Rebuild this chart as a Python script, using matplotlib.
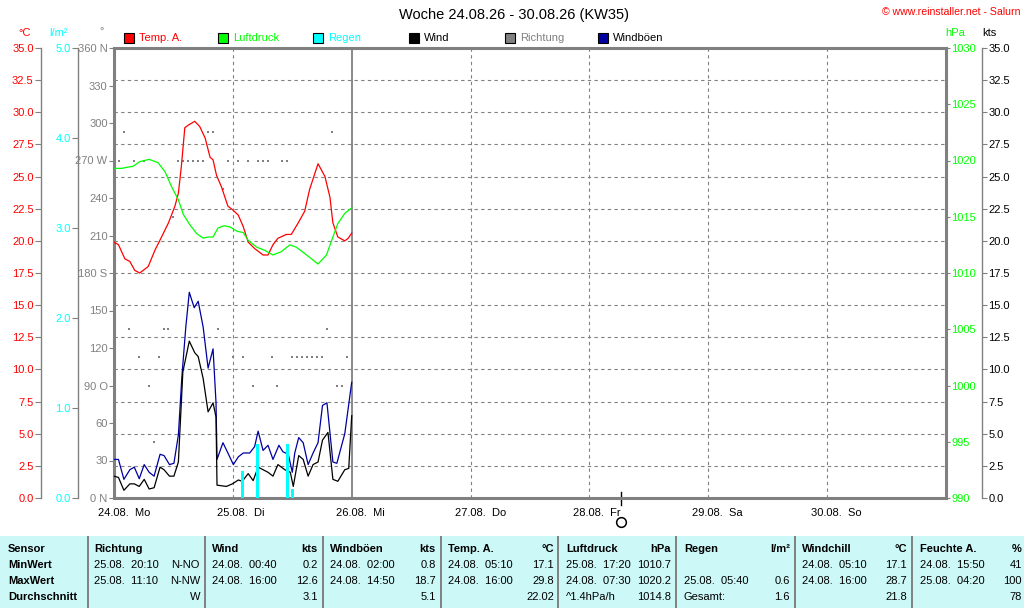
import numpy as np
import matplotlib
matplotlib.use("Agg")
import matplotlib.pyplot as plt
from matplotlib.patches import Rectangle
from matplotlib.lines import Line2D
from matplotlib import transforms

plt.rcParams['font.family'] = ['Liberation Sans', 'DejaVu Sans']
plt.rcParams['font.size'] = 8

# ---- data (hours since 24.08. 00:00) ----
temp_h = [0, 0.9, 2.2, 3.2, 4.2, 5.2, 6.9, 8.3, 9.6, 11.0, 12.3, 13.0, 13.6, 14.3, 15.0, 16.3,
          17.3, 18.4, 19.4, 20.0, 20.7, 21.7, 23.0, 24.0, 25.1, 26.1, 27.1, 28.4, 30.1, 31.1,
          32.1, 33.1, 34.8, 35.8, 37.2, 38.5, 39.5, 41.2, 42.6, 43.6, 44.2, 45.2, 46.6, 47.3, 48.0]
temp_v = [19.9, 19.7, 18.6, 18.4, 17.7, 17.5, 18.0, 19.3, 20.3, 21.4, 22.7, 23.7, 25.8, 28.8,
          29.0, 29.3, 28.9, 28.0, 26.5, 26.3, 25.1, 24.2, 22.7, 22.4, 22.0, 21.1, 19.9, 19.4,
          18.9, 18.9, 19.7, 20.2, 20.5, 20.5, 21.4, 22.3, 24.0, 26.0, 25.0, 23.4, 21.4, 20.3,
          20.0, 20.2, 20.6]

pres_h = [0, 1.5, 3.9, 5.2, 7.1, 8.9, 10.3, 11.6, 13.0, 14.0, 15.3, 16.7, 18.0, 19.0, 20.0,
          21.0, 22.2, 23.4, 24.9, 26.1, 27.1, 28.8, 30.5, 32.1, 33.8, 35.5, 36.8, 38.9, 41.2,
          42.9, 44.2, 45.2, 46.6, 48.0]
pres_v = [1019.3, 1019.3, 1019.5, 1019.9, 1020.1, 1019.8, 1019.0, 1017.7, 1016.5, 1015.2,
          1014.3, 1013.5, 1013.1, 1013.2, 1013.2, 1014.0, 1014.2, 1014.1, 1013.7, 1013.6,
          1012.9, 1012.3, 1012.0, 1011.6, 1011.9, 1012.5, 1012.3, 1011.6, 1010.8, 1011.6,
          1013.2, 1014.4, 1015.3, 1015.8]

gust_h = [0, 0.9, 2.0, 3.2, 4.1, 5.1, 6.1, 7.1, 8.1, 9.3, 10.1, 11.2, 12.1, 13.0, 13.7, 14.5,
          15.2, 16.2, 17.0, 18.0, 19.0, 20.0, 20.6, 20.8, 22.0, 23.0, 24.1, 25.1, 26.1, 27.4,
          28.4, 29.1, 30.1, 31.1, 32.1, 33.3, 34.1, 35.2, 36.0, 36.5, 37.3, 38.2, 39.2, 40.2,
          41.2, 42.1, 43.0, 44.2, 45.0, 46.6, 48.0]
gust_v = [3.0, 3.0, 1.45, 2.2, 2.4, 1.5, 2.6, 2.0, 1.7, 3.4, 3.3, 2.6, 2.7, 4.9, 9.4, 13.3,
          16.0, 14.8, 15.3, 13.3, 10.1, 11.6, 7.4, 3.0, 4.3, 3.5, 2.6, 3.2, 3.5, 3.5, 4.0, 5.2,
          3.7, 4.1, 3.0, 4.1, 3.6, 3.4, 2.0, 3.5, 4.7, 4.3, 2.6, 3.5, 4.3, 7.2, 7.4, 2.8, 2.7,
          5.0, 9.0]

wind_h = [0, 0.9, 2.0, 3.2, 4.1, 5.1, 6.1, 7.1, 8.1, 9.3, 10.1, 11.2, 12.1, 13.0, 13.9, 15.2,
          16.3, 17.0, 18.0, 19.0, 20.0, 20.6, 20.8, 22.7, 23.9, 25.1, 25.9, 27.1, 28.1, 29.1,
          31.1, 32.1, 33.1, 34.5, 35.6, 36.2, 37.3, 38.2, 39.2, 40.2, 41.2, 42.1, 43.2, 44.2,
          45.2, 46.6, 47.4, 48.0]
wind_v = [1.7, 1.6, 0.6, 1.1, 1.1, 0.9, 1.45, 0.7, 0.8, 2.4, 2.2, 1.7, 1.7, 2.8, 9.8, 12.2,
          11.3, 11.0, 9.3, 6.7, 7.4, 6.3, 1.0, 0.9, 1.1, 1.4, 1.3, 1.9, 1.35, 2.4, 2.0, 1.7,
          2.6, 2.2, 2.0, 0.9, 3.3, 3.0, 1.7, 2.6, 2.8, 4.5, 5.1, 1.45, 1.3, 2.2, 2.3, 6.4]

dir_h = list(range(1, 48))
dir_deg = [270, 292.5, 135, 270, 112.5, 270, 90, 45, 112.5, 135,
           135, 225, 270, 270, 270, 270, 270, 270, 292.5, 292.5,
           135, 247.5, 270, 112.5, 270, 112.5, 270, 90, 270, 270,
           270, 112.5, 90, 270, 270, 112.5, 112.5, 112.5, 112.5, 112.5,
           112.5, 112.5, 135, 292.5, 90, 90, 112.5]

rain_h = [26.0, 29.0, 35.0, 36.0]
rain_v = [0.3, 0.6, 0.6, 0.1]

now_hour = 48
moon_hour = 102.3

day_labels = ["24.08.  Mo", "25.08.  Di", "26.08.  Mi", "27.08.  Do",
              "28.08.  Fr", "29.08.  Sa", "30.08.  So"]
dir_ticks = list(range(0, 361, 30))
dir_labels = ["0 N", "30", "60", "90 O", "120", "150", "180 S", "210", "240",
              "270 W", "300", "330", "360 N"]

legend_items = ["Temp. A.", "Luftdruck", "Regen", "Wind", "Richtung", "Windböen"]

# table
tab_headers = ["Sensor", "Richtung", "Wind", "Windböen", "Temp. A.", "Luftdruck", "Regen",
               "Windchill", "Feuchte A."]
tab_units = ["", "", "kts", "kts", "°C", "hPa", "l/m²", "°C", "%"]
row_labels = ["MinWert", "MaxWert", "Durchschnitt"]
min_time = ["25.08.  20:10", "24.08.  00:40", "24.08.  02:00", "24.08.  05:10",
            "25.08.  17:20", "", "24.08.  05:10", "24.08.  15:50"]
min_val = ["N-NO", "0.2", "0.8", "17.1", "1010.7", "", "17.1", "41"]
max_time = ["25.08.  11:10", "24.08.  16:00", "24.08.  14:50", "24.08.  16:00",
            "24.08.  07:30", "25.08.  05:40", "24.08.  16:00", "25.08.  04:20"]
max_val = ["N-NW", "12.6", "18.7", "29.8", "1020.2", "0.6", "28.7", "100"]
avg_text = ["", "", "", "", "^1.4hPa/h", "Gesamt:", "", ""]
avg_val = ["W", "3.1", "5.1", "22.02", "1014.8", "1.6", "21.8", "78"]

# ---- styling ----
W, H = 1024, 608
GRAY = '#808080'
RED = '#ff0000'
GREEN = '#00ff00'
CYAN = '#00ffff'
NAVY = '#0000a0'
DASH = (0, (3, 3))


def fx(x):
    return x / W


def fy(y):
    return 1 - y / H


def pt(px):
    return px * 72 / 100


fig = plt.figure(figsize=(10.24, 6.08), dpi=100)
fig.patch.set_facecolor('white')

ax = fig.add_axes([fx(114), fy(498), (946 - 114) / W, (498 - 48) / H])
ax.set_xlim(0, 168)
ax.set_ylim(0, 360)
ax.set_xticks([])
ax.set_yticks(dir_ticks)
ax.set_yticklabels(dir_labels)
ax.tick_params(axis='y', colors=GRAY, labelcolor=GRAY, length=pt(5), width=0.8,
               pad=1, labelsize=8)
for s in ax.spines.values():
    s.set_color(GRAY)
    s.set_linewidth(2.2)

# temperature axis (far left)
ax_t = ax.twinx()
ax_t.set_ylim(0, 35)
ax_t.yaxis.set_ticks_position('left')
ax_t.set_yticks(np.arange(0, 35.01, 2.5))
ax_t.set_yticklabels([f"{v:.1f}" for v in np.arange(0, 35.01, 2.5)])
ax_t.tick_params(axis='y', colors=GRAY, labelcolor=RED, length=pt(6), width=0.8,
                 pad=1, labelsize=8)
for k in ['right', 'top', 'bottom']:
    ax_t.spines[k].set_visible(False)
ax_t.spines['left'].set_visible(True)
ax_t.spines['left'].set_position(('outward', pt(73)))
ax_t.spines['left'].set_color(GRAY)
ax_t.spines['left'].set_linewidth(1)
ax_t.grid(axis='y', color=GRAY, linestyle=DASH, linewidth=0.8)

# pressure axis (right)
ax_p = ax.twinx()
ax_p.set_ylim(990, 1030)
ax_p.set_yticks(np.arange(990, 1031, 5))
ax_p.tick_params(axis='y', colors=GRAY, labelcolor=GREEN, length=pt(4), width=0.8,
                 pad=1, labelsize=8)
for k in ['left', 'top', 'bottom', 'right']:
    ax_p.spines[k].set_visible(False)

# wind axis (far right)
ax_k = ax.twinx()
ax_k.set_ylim(0, 35)
ax_k.set_yticks(np.arange(0, 35.01, 2.5))
ax_k.set_yticklabels([f"{v:.1f}" for v in np.arange(0, 35.01, 2.5)])
ax_k.tick_params(axis='y', colors=GRAY, labelcolor='black', length=pt(5), width=0.8,
                 pad=1, labelsize=8)
for k in ['left', 'top', 'bottom']:
    ax_k.spines[k].set_visible(False)
ax_k.spines['right'].set_position(('outward', pt(36)))
ax_k.spines['right'].set_color(GRAY)
ax_k.spines['right'].set_linewidth(1)

# rain axis (left, inner)
ax_r = ax.twinx()
ax_r.set_ylim(0, 5)
ax_r.yaxis.set_ticks_position('left')
ax_r.set_yticks(np.arange(0, 5.01, 1))
ax_r.set_yticklabels([f"{v:.1f}" for v in np.arange(0, 5.01, 1)])
ax_r.tick_params(axis='y', colors=GRAY, labelcolor=CYAN, length=pt(6), width=0.8,
                 pad=1, labelsize=8)
for k in ['right', 'top', 'bottom']:
    ax_r.spines[k].set_visible(False)
ax_r.spines['left'].set_visible(True)
ax_r.spines['left'].set_position(('outward', pt(36)))
ax_r.spines['left'].set_color(GRAY)
ax_r.spines['left'].set_linewidth(1)

# vertical day lines
for d in range(1, 7):
    if d * 24 == now_hour:
        ax.axvline(d * 24, color=GRAY, linewidth=1.3)
    else:
        ax.axvline(d * 24, color=GRAY, linestyle=DASH, linewidth=0.8)

# series
ax.plot(dir_h, dir_deg, linestyle='none', marker='s', markersize=1.7, color=GRAY, mew=0)
ax_t.plot(temp_h, temp_v, color=RED, linewidth=0.9)
ax_p.plot(pres_h, pres_v, color=GREEN, linewidth=0.9)
ax_k.plot(gust_h, gust_v, color=NAVY, linewidth=0.9)
ax_k.plot(wind_h, wind_v, color='black', linewidth=0.9)
ax_r.bar(rain_h, rain_v, width=0.55, color=CYAN, linewidth=0)

# x labels
xt = ax.get_xaxis_transform()
off = transforms.offset_copy(xt, fig=fig, x=-16, y=0, units='dots')
for i, lab in enumerate(day_labels):
    ax.text(i * 24, -0.033, lab, transform=off, ha='left', va='center', fontsize=8,
            clip_on=False)

# moon marker
ax.plot([moon_hour, moon_hour], [0.013, -0.016], color='black', linewidth=1,
        transform=xt, clip_on=False)
ax.plot([moon_hour], [-0.053], marker='o', markersize=7, mfc='white', mec='black',
        mew=1.1, transform=xt, clip_on=False)

# title and credits
fig.text(fx(514), fy(15), "Woche 24.08.26 - 30.08.26 (KW35)", ha='center', va='center',
         fontsize=10.5)
fig.text(fx(1021), fy(12), "© www.reinstaller.net - Salurn", ha='right', va='center',
         fontsize=7.6, color=RED)

# unit headers
fig.text(fx(25), fy(33), "°C", color=RED, ha='center', va='center', fontsize=8)
fig.text(fx(58), fy(33), "l/m²", color=CYAN, ha='center', va='center', fontsize=8)
fig.text(fx(102), fy(31), "°", color=GRAY, ha='center', va='center', fontsize=8)
fig.text(fx(945), fy(33), "hPa", color=GREEN, ha='left', va='center', fontsize=8)
fig.text(fx(982), fy(33), "kts", color='black', ha='left', va='center', fontsize=8)

# legend
leg_x = [124, 218, 313, 409, 505, 598]
leg_box = [RED, GREEN, CYAN, 'black', GRAY, NAVY]
leg_txt = [RED, GREEN, CYAN, 'black', GRAY, 'black']
for x, lab, bc, tc in zip(leg_x, legend_items, leg_box, leg_txt):
    fig.patches.append(Rectangle((fx(x), fy(43)), 10 / W, 10 / H, transform=fig.transFigure,
                                 facecolor=bc, edgecolor='black', linewidth=0.8))
    fig.text(fx(x + 15), fy(38), lab, color=tc, ha='left', va='center', fontsize=8)

# table
fig.patches.append(Rectangle((0, 0), 1, fy(536), transform=fig.transFigure,
                             facecolor='#ccf8f8', edgecolor='none'))
for x in [88, 205, 323, 441, 558, 676, 795, 912]:
    fig.lines.append(Line2D([fx(x), fx(x)], [fy(537), 0], transform=fig.transFigure,
                            color=GRAY, linewidth=1.4))
col_left = [8, 94, 212, 330, 448, 566, 684, 802, 920]
col_right = [None, 200, 318, 436, 554, 671, 790, 907, 1022]
row_y = [549, 565, 581, 597]

for i, hd in enumerate(tab_headers):
    fig.text(fx(col_left[i]), fy(row_y[0]), hd, ha='left', va='center', fontsize=8,
             fontweight='bold')
    if tab_units[i]:
        fig.text(fx(col_right[i]), fy(row_y[0]), tab_units[i], ha='right', va='center',
                 fontsize=8, fontweight='bold')
for j, lab in enumerate(row_labels):
    fig.text(fx(col_left[0]), fy(row_y[j + 1]), lab, ha='left', va='center', fontsize=8,
             fontweight='bold')
for i in range(8):
    rows = [(min_time[i], min_val[i]), (max_time[i], max_val[i]), (avg_text[i], avg_val[i])]
    for j, (lt, rv) in enumerate(rows):
        y = fy(row_y[j + 1])
        if lt:
            fig.text(fx(col_left[i + 1]), y, lt, ha='left', va='center', fontsize=8)
        if rv:
            fig.text(fx(col_right[i + 1]), y, rv, ha='right', va='center', fontsize=8)

fig.savefig("out.png", dpi=100)
